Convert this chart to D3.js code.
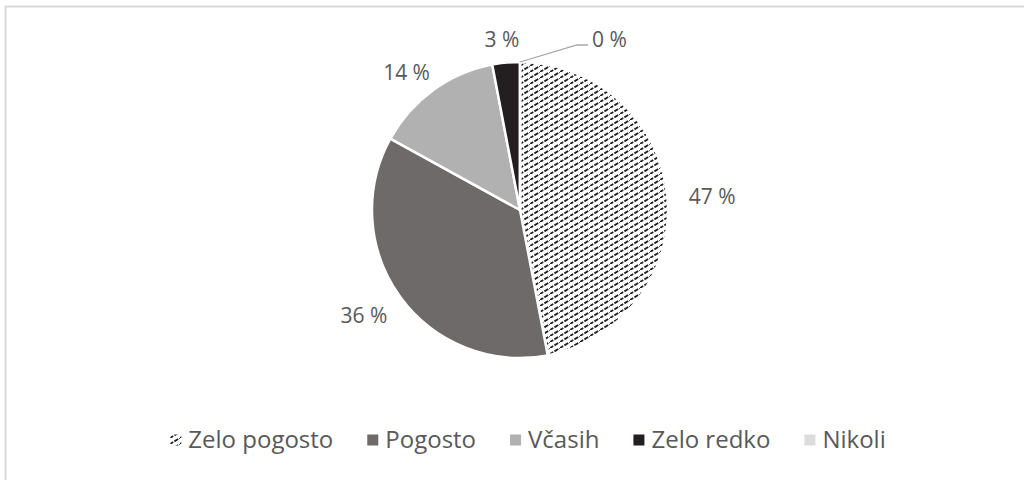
<!DOCTYPE html>
<html>
<head>
<meta charset="utf-8">
<script src="https://cdn.jsdelivr.net/npm/d3@7"></script>
<style>
  html, body { margin: 0; padding: 0; background: #fff; }
  svg { display: block; }
</style>
</head>
<body>
<svg id="chart" width="1024" height="480"></svg>
<script>
// Share of answers per frequency category
const categories = ["Zelo pogosto", "Pogosto", "Včasih", "Zelo redko", "Nikoli"];
const values = [47, 36, 14, 3, 0];
const valueLabels = ["47 %", "36 %", "14 %", "3 %", "0 %"];
const fills = ["url(#dashDiag)", "#6e6a69", "#b1b1b2", "#231f20", "#dcdcdd"];

const cx = 520, cy = 210, R = 148;
const textColor = "#595959";
const fontFamily = "'Open Sans', 'Noto Sans', sans-serif";

const svg = d3.select("#chart");

// Outer frame of the chart area
svg.append("rect")
  .attr("x", 5.5).attr("y", 6.5)
  .attr("width", 1200).attr("height", 800)
  .attr("fill", "none")
  .attr("stroke", "#d9d9d9")
  .attr("stroke-width", 2);

// Dashed upward-diagonal hatch for the first slice
const defs = svg.append("defs");
const pat = defs.append("pattern")
  .attr("id", "dashDiag")
  .attr("patternUnits", "userSpaceOnUse")
  .attr("width", 10).attr("height", 6);
pat.append("rect").attr("width", 10).attr("height", 6).attr("fill", "#fff");
pat.append("path")
  .attr("d", "M-0.5,6.3 L3.2,4.08 M4.4,3.36 L8.2,1.08 M9.2,0.48 L10.5,-0.3")
  .attr("stroke", "#222")
  .attr("stroke-width", 1.8)
  .attr("stroke-linecap", "butt");

const pie = d3.pie().sort(null).value(d => d)(values);
const arc = d3.arc().innerRadius(0).outerRadius(R);

const g = svg.append("g").attr("transform", `translate(${cx},${cy})`);

g.selectAll("path.slice")
  .data(pie)
  .join("path")
  .attr("class", "slice")
  .attr("d", arc)
  .attr("fill", (d, i) => fills[i])
  .attr("stroke", "#fff")
  .attr("stroke-width", 2.5)
  .attr("stroke-linejoin", "round");

// Data labels: outside the pie on an ellipse; zero slices get a leader line
const rx = R + 45, ry = R + 26;
pie.forEach((d, i) => {
  const a = (d.startAngle + d.endAngle) / 2;
  if (d.value === 0) {
    const sx = R * Math.sin(a), sy = -R * Math.cos(a);
    const ex = sx + 57, ey = sy - 17;
    g.append("polyline")
      .attr("points", `${sx},${sy} ${ex},${ey} ${ex + 11},${ey}`)
      .attr("fill", "none")
      .attr("stroke", "#a6a6a6")
      .attr("stroke-width", 1.3);
    g.append("text")
      .attr("x", ex + 15).attr("y", ey - 5)
      .attr("dy", "0.35em")
      .attr("text-anchor", "start")
      .attr("font-family", fontFamily)
      .attr("font-size", 21)
      .attr("fill", textColor)
      .text(valueLabels[i]);
  } else {
    g.append("text")
      .attr("x", rx * Math.sin(a))
      .attr("y", -ry * Math.cos(a) + 3)
      .attr("dy", "0.35em")
      .attr("text-anchor", "middle")
      .attr("font-family", fontFamily)
      .attr("font-size", 21)
      .attr("fill", textColor)
      .text(valueLabels[i]);
  }
});

// Legend row, centred under the pie
const legY = 440, mark = 11, markGap = 7, itemGap = 34;
const leg = svg.append("g");
const items = leg.selectAll("g.item")
  .data(categories)
  .join("g")
  .attr("class", "item");
items.append("rect")
  .attr("width", mark).attr("height", mark)
  .attr("y", legY - mark / 2)
  .attr("fill", (d, i) => fills[i]);
items.append("text")
  .attr("y", legY)
  .attr("dy", "0.35em")
  .attr("font-family", fontFamily)
  .attr("font-size", 24)
  .attr("fill", textColor)
  .text(d => d);

const widths = [];
items.each(function () {
  widths.push(d3.select(this).select("text").node().getComputedTextLength());
});
const total = d3.sum(widths, w => mark + markGap + w) + itemGap * (categories.length - 1);
let x = 528 - total / 2;
items.each(function (d, i) {
  const it = d3.select(this);
  it.select("rect").attr("x", x);
  it.select("text").attr("x", x + mark + markGap);
  x += mark + markGap + widths[i] + itemGap;
});
</script>
</body>
</html>
